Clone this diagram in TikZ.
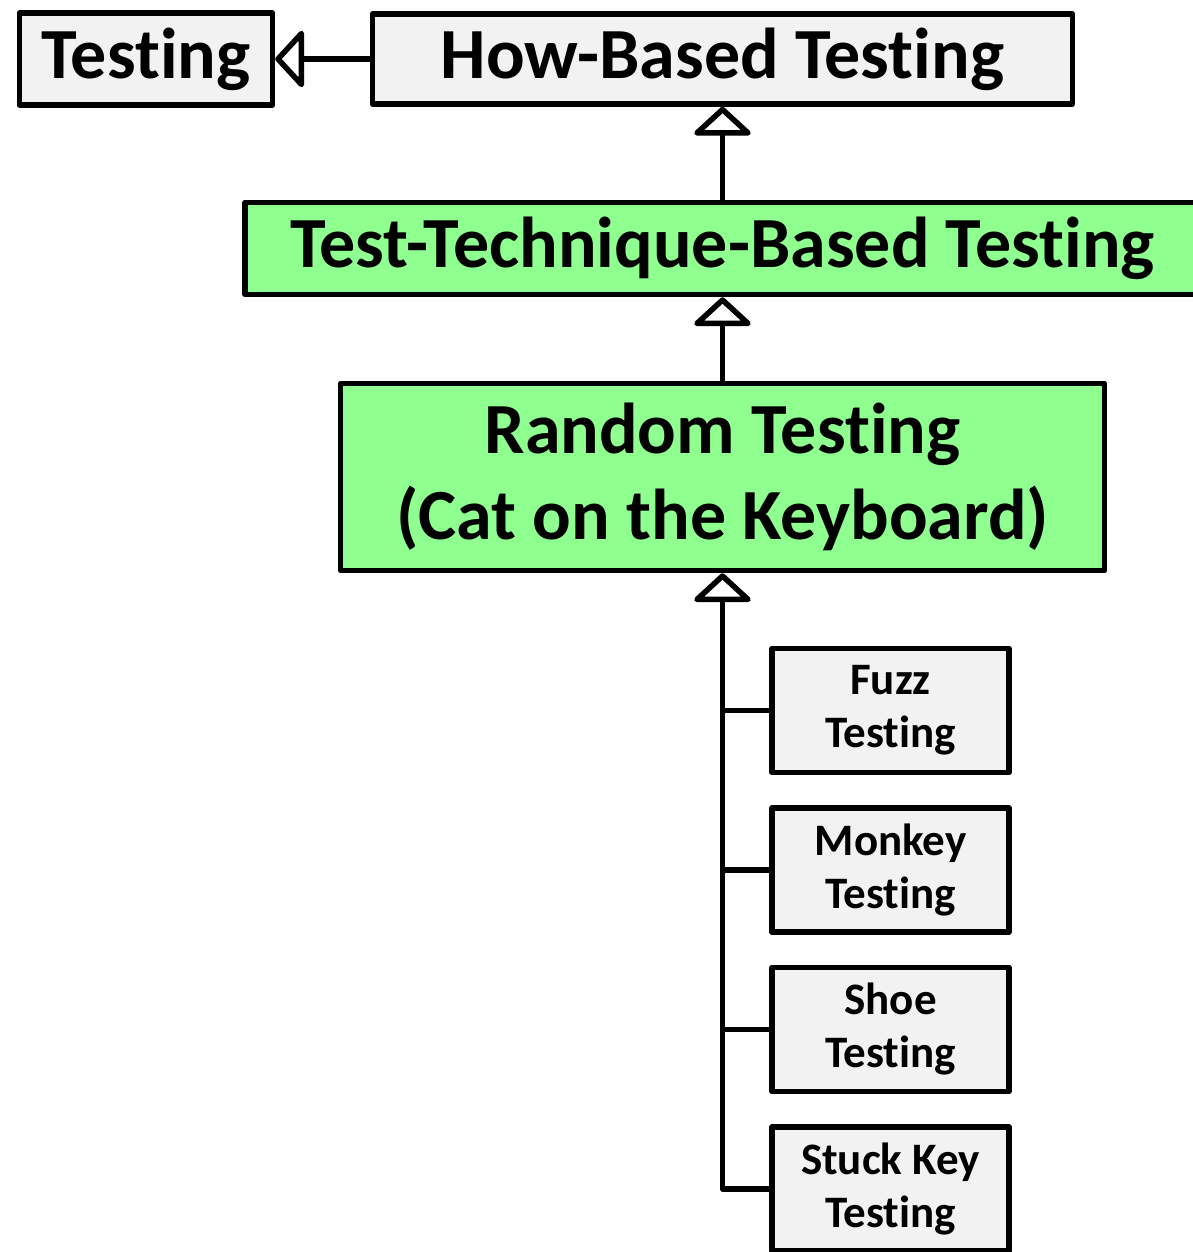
\documentclass[tikz,border=0pt]{standalone}
\usepackage{fontspec}
\setmainfont{Carlito}[Ligatures={NoCommon}]
\usetikzlibrary{arrows.meta,positioning}
\definecolor{techgreen}{RGB}{143,255,143}
\definecolor{boxgray}{RGB}{242,242,242}
\begin{document}
\begin{tikzpicture}[x=1pt,y=-1pt,line width=5.5pt,line join=round,
                    >={Triangle[open,length=30pt,width=64pt,line join=round]}]
  \tikzstyle{every node}=[font=\bfseries]
  \tikzstyle{bigbox}=[rectangle,draw=black,fill=boxgray,inner sep=0pt,
                      font=\fontsize{72}{86}\selectfont\bfseries,align=center]
  \tikzstyle{greenbox}=[bigbox,fill=techgreen]
  \tikzstyle{smallbox}=[rectangle,draw=black,fill=boxgray,inner sep=0pt,
                        minimum width=237pt,minimum height=124pt,
                        font=\fontsize{45}{53}\selectfont\bfseries,align=center]
  \useasboundingbox (0,0) rectangle (1192,1252);

  \node[bigbox,minimum width=253pt,minimum height=92pt] (testing) at (146,59) {Testing};
  \node[bigbox,minimum width=700pt,minimum height=90pt] (how) at (722.5,59) {How-Based Testing};
  \node[greenbox,minimum width=955pt,minimum height=92pt] (tech) at (722.5,248.5) {Test-Technique-Based Testing};
  \node[greenbox,minimum width=764pt,minimum height=187pt] (random) at (722.5,477) {Random Testing\\(Cat on the Keyboard)};

  \node[smallbox] (fuzz)   at (890.5,710.5) {Fuzz\\Testing};
  \node[smallbox] (monkey) [below=30pt of fuzz]   {Monkey\\Testing};
  \node[smallbox] (shoe)   [below=30pt of monkey] {Shoe\\Testing};
  \node[smallbox] (stuck)  [below=30pt of shoe]   {Stuck Key\\Testing};

  \draw[->] (how.west) -- (testing.east);
  \draw[->] (tech.north) -- (how.south);
  \draw[->] (random.north) -- (tech.south);
  \draw[->] (stuck.west) -| (random.south);
  \draw (fuzz.west) -- (fuzz.west -| random.south);
  \draw (monkey.west) -- (monkey.west -| random.south);
  \draw (shoe.west) -- (shoe.west -| random.south);
\end{tikzpicture}
\end{document}
